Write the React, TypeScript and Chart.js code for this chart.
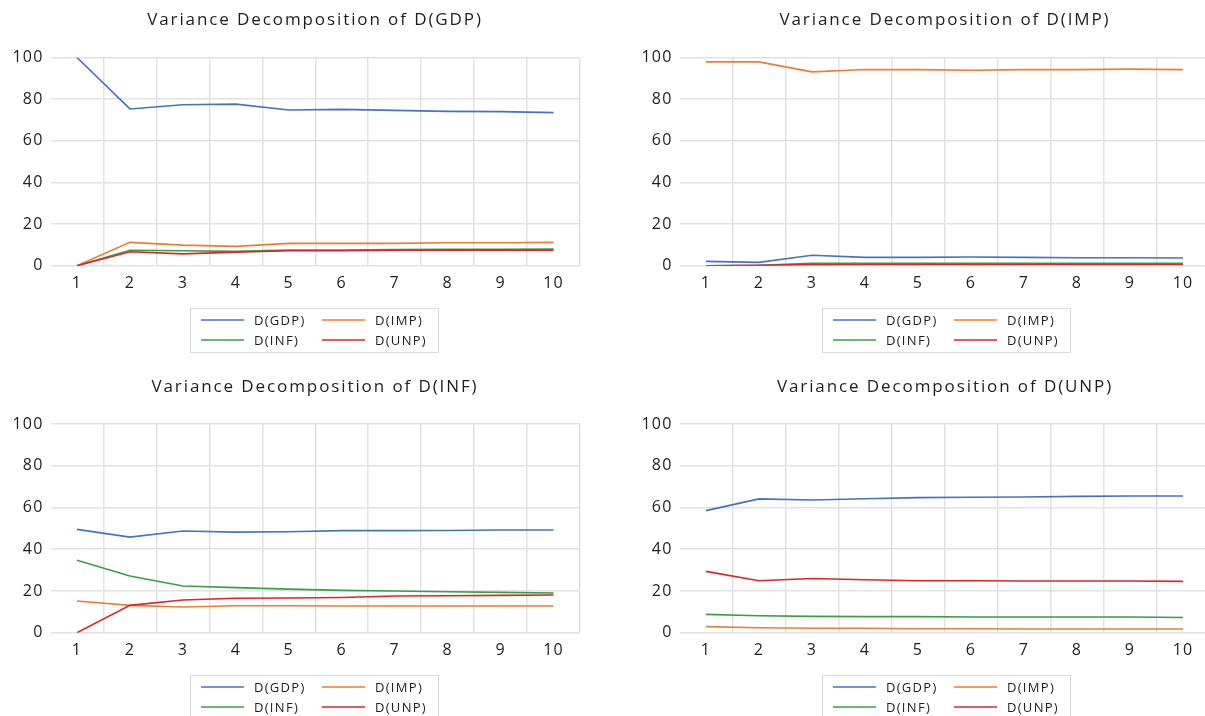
import React, { useEffect, useRef } from 'react';
import { Chart, registerables } from 'chart.js';

Chart.register(...registerables);

// ---- data ----
const periods = ['1', '2', '3', '4', '5', '6', '7', '8', '9', '10'];
const seriesNames = ['D(GDP)', 'D(IMP)', 'D(INF)', 'D(UNP)'];
const seriesColors = ['#4472C4', '#ED7D31', '#3A9D48', '#D9262B'];

const gdpGDP = [100, 75.3, 77.3, 77.6, 74.8, 75.1, 74.6, 74.1, 74.0, 73.5];
const gdpIMP = [0, 11.2, 9.9, 9.3, 10.7, 10.7, 10.7, 11.0, 11.0, 11.2];
const gdpINF = [0, 7.4, 7.2, 6.9, 7.5, 7.5, 7.7, 7.9, 7.9, 8.0];
const gdpUNP = [0, 6.7, 5.7, 6.5, 7.2, 7.2, 7.4, 7.5, 7.5, 7.5];

const impGDP = [2.1, 1.6, 5.0, 4.0, 4.0, 4.2, 4.0, 3.8, 3.8, 3.7];
const impIMP = [97.9, 97.9, 93.1, 94.2, 94.2, 93.9, 94.2, 94.2, 94.4, 94.2];
const impINF = [0, 0.2, 1.1, 1.1, 1.1, 1.1, 1.1, 1.1, 1.1, 1.1];
const impUNP = [0, 0.2, 0.5, 0.6, 0.6, 0.6, 0.6, 0.6, 0.6, 0.6];

const infGDP = [49.5, 45.8, 48.7, 48.2, 48.4, 48.9, 48.9, 49.0, 49.2, 49.2];
const infIMP = [15.2, 13.1, 12.3, 12.9, 12.9, 12.8, 12.8, 12.8, 12.8, 12.8];
const infINF = [34.7, 27.2, 22.4, 21.6, 20.9, 20.3, 20.0, 19.6, 19.3, 19.0];
const infUNP = [0, 13.1, 15.7, 16.5, 16.6, 16.9, 17.6, 17.7, 17.9, 18.1];

const unpGDP = [58.5, 64.1, 63.6, 64.2, 64.7, 64.9, 65.0, 65.3, 65.5, 65.5];
const unpIMP = [2.9, 2.4, 2.1, 2.1, 1.9, 1.9, 1.8, 1.8, 1.8, 1.8];
const unpINF = [8.8, 8.1, 7.8, 7.7, 7.7, 7.5, 7.5, 7.5, 7.5, 7.3];
const unpUNP = [29.4, 24.9, 26.0, 25.4, 24.9, 24.9, 24.8, 24.8, 24.8, 24.6];

const yMin = 0;
const yMax = 100;
const yStep = 20;

const CANVAS_W = 1220;
const CANVAS_H = 716;
const FONT = '"Open Sans", "Noto Sans", sans-serif';
const TEXT_COLOR = '#1e1e1e';
const GRID_COLOR = '#e2e2e2';

type PanelSpec = {
  title: string;
  series: number[][];
  left: number;
  right: number;
  top: number;
  bottom: number;
  titleX: number;
  titleY: number;
  legendX: number;
  legendY: number;
};

const panels: PanelSpec[] = [
  { title: 'Variance Decomposition of D(GDP)', series: [gdpGDP, gdpIMP, gdpINF, gdpUNP],
    left: 50.5, right: 580, top: 57.5, bottom: 265.7, titleX: 315, titleY: 20, legendX: 314, legendY: 308 },
  { title: 'Variance Decomposition of D(IMP)', series: [impGDP, impIMP, impINF, impUNP],
    left: 679.5, right: 1209.5, top: 57.5, bottom: 265.7, titleX: 945, titleY: 20, legendX: 946, legendY: 308 },
  { title: 'Variance Decomposition of D(INF)', series: [infGDP, infIMP, infINF, infUNP],
    left: 50.5, right: 580, top: 424, bottom: 632.7, titleX: 315, titleY: 387, legendX: 314, legendY: 675 },
  { title: 'Variance Decomposition of D(UNP)', series: [unpGDP, unpIMP, unpINF, unpUNP],
    left: 679.5, right: 1209.5, top: 424, bottom: 632.7, titleX: 945, titleY: 387, legendX: 946, legendY: 675 },
];

const Y_AXIS_W = 40;
const X_AXIS_H = 30;

const spacingPlugin = {
  id: 'tickSpacing',
  beforeDraw(chart: any) {
    (chart.ctx as any).letterSpacing = '1.2px';
  },
};

const decorPlugin = {
  id: 'decor',
  afterDraw(chart: any, _args: any, opts: any) {
    const ctx = chart.ctx as CanvasRenderingContext2D;
    ctx.save();
    // title
    ctx.font = `17px ${FONT}`;
    (ctx as any).letterSpacing = '1.9px';
    ctx.fillStyle = TEXT_COLOR;
    ctx.textAlign = 'center';
    ctx.textBaseline = 'middle';
    ctx.fillText(opts.title, opts.titleX, opts.titleY);

    // legend
    const bw = 248;
    const bh = 44;
    const bx = Math.round(opts.legendX - bw / 2);
    const by = Math.round(opts.legendY);
    ctx.strokeStyle = '#d9d9d9';
    ctx.lineWidth = 1;
    ctx.strokeRect(bx + 0.5, by + 0.5, bw, bh);
    ctx.font = `13px ${FONT}`;
    (ctx as any).letterSpacing = '1.3px';
    ctx.textAlign = 'left';
    const ds = chart.data.datasets;
    ds.forEach((d: any, i: number) => {
      const col = i % 2;
      const row = Math.floor(i / 2);
      const lx = bx + 11 + col * 121;
      const ly = by + 12 + row * 20;
      ctx.strokeStyle = d.borderColor;
      ctx.lineWidth = 1.5;
      ctx.beginPath();
      ctx.moveTo(lx, ly);
      ctx.lineTo(lx + 43, ly);
      ctx.stroke();
      ctx.fillStyle = TEXT_COLOR;
      ctx.fillText(d.label, lx + 53, ly + 1);
    });
    ctx.restore();
  },
};

function Panel({ spec }: { spec: PanelSpec }) {
  const ref = useRef<HTMLCanvasElement | null>(null);
  useEffect(() => {
    if (!ref.current) return;
    const chart = new Chart(ref.current, {
      type: 'line',
      data: {
        labels: periods,
        datasets: spec.series.map((vals, i) => ({
          label: seriesNames[i],
          data: vals,
          borderColor: seriesColors[i],
          backgroundColor: seriesColors[i],
          borderWidth: 1.6,
          pointRadius: 0,
          tension: 0,
          fill: false,
          order: 4 - i,
        })),
      },
      options: {
        animation: false,
        responsive: false,
        maintainAspectRatio: false,
        devicePixelRatio: 1,
        layout: {
          padding: {
            left: spec.left - Y_AXIS_W,
            right: CANVAS_W - spec.right,
            top: spec.top,
            bottom: CANVAS_H - spec.bottom - X_AXIS_H,
          },
        },
        plugins: {
          legend: { display: false },
          title: { display: false },
          tooltip: { enabled: false },
          decor: {
            title: spec.title,
            titleX: spec.titleX,
            titleY: spec.titleY,
            legendX: spec.legendX,
            legendY: spec.legendY,
          },
        } as any,
        scales: {
          x: {
            type: 'category',
            offset: true,
            grid: {
              offset: true,
              drawTicks: false,
              lineWidth: 1.5,
              color: (c: any) => (c.index === 0 || c.index === periods.length ? 'rgba(0,0,0,0)' : GRID_COLOR),
            },
            border: { display: false },
            ticks: {
              autoSkip: false,
              maxRotation: 0,
              padding: 8,
              color: TEXT_COLOR,
              font: { family: FONT, size: 16 },
            },
            afterFit: (s: any) => { s.height = X_AXIS_H; },
          },
          y: {
            min: yMin,
            max: yMax,
            grid: { drawTicks: false, lineWidth: 1.5, color: GRID_COLOR },
            border: { display: false },
            ticks: {
              stepSize: yStep,
              padding: 7,
              color: TEXT_COLOR,
              font: { family: FONT, size: 16 },
            },
            afterFit: (s: any) => { s.width = Y_AXIS_W; },
          },
        },
      },
      plugins: [spacingPlugin, decorPlugin],
    } as any);
    return () => chart.destroy();
  }, [spec]);
  return (
    <canvas
      ref={ref}
      width={CANVAS_W}
      height={CANVAS_H}
      style={{ position: 'absolute', left: 0, top: 0, width: CANVAS_W, height: CANVAS_H }}
    />
  );
}

export default function App() {
  return (
    <div
      style={{
        position: 'fixed',
        left: 0,
        top: 0,
        width: 1205,
        height: 716,
        overflow: 'hidden',
        background: '#ffffff',
      }}
    >
      {panels.map((p, i) => (
        <Panel key={i} spec={p} />
      ))}
    </div>
  );
}
